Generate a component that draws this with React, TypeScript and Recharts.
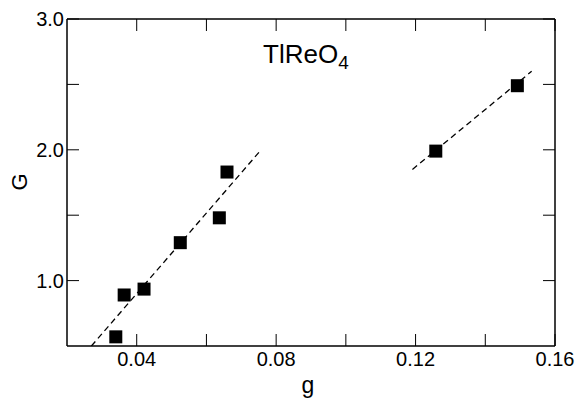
import React from 'react';
import { ScatterChart, Scatter, XAxis, YAxis } from 'recharts';

// Measured points
const gValues = [0.034, 0.0364, 0.0421, 0.0525, 0.0637, 0.0659, 0.1258, 0.1492];
const GValues = [0.57, 0.89, 0.935, 1.29, 1.48, 1.83, 1.99, 2.49];

// Dashed guide lines (end points)
const fit1G = [0.027, 0.0757];
const fit1Y = [0.5, 2.0];
const fit2G = [0.1191, 0.1533];
const fit2Y = [1.85, 2.6];

// Axes
const xTicks = [0.04, 0.06, 0.08, 0.1, 0.12, 0.14, 0.16];
const xLabelTicks = [0.04, 0.08, 0.12, 0.16];
const yTicks = [1.0, 1.5, 2.0, 2.5, 3.0];
const yLabelTicks = [1.0, 2.0, 3.0];
const xDomain = [0.02, 0.16];
const yDomain = [0.5, 3.0];

const title = 'TlReO';
const titleSub = '4';
const xName = 'g';
const yName = 'G';

const points = gValues.map((g, i) => ({ g, G: GValues[i] }));
const fit1 = fit1G.map((g, i) => ({ g, G: fit1Y[i] }));
const fit2 = fit2G.map((g, i) => ({ g, G: fit2Y[i] }));

const FONT = '"Liberation Sans", Arial, Helvetica, sans-serif';
const TICK_LEN = 12;

const isIn = (arr: number[], v: number) => arr.some((a) => Math.abs(a - v) < 1e-9);

const BottomTick = (props: any) => {
  const { x, y, payload } = props;
  return (
    <g>
      <line x1={x} y1={y} x2={x} y2={y - TICK_LEN} stroke="#000" strokeWidth={1} />
      {isIn(xLabelTicks, payload.value) && (
        <text x={x} y={y + 20} textAnchor="middle" fontSize={20} fontFamily={FONT} fill="#000">
          {payload.value.toFixed(2)}
        </text>
      )}
    </g>
  );
};

const TopTick = (props: any) => {
  const { x, y } = props;
  return <line x1={x} y1={y} x2={x} y2={y + TICK_LEN} stroke="#000" strokeWidth={1} />;
};

const LeftTick = (props: any) => {
  const { x, y, payload } = props;
  return (
    <g>
      <line x1={x} y1={y} x2={x + TICK_LEN} y2={y} stroke="#000" strokeWidth={1} />
      {isIn(yLabelTicks, payload.value) && (
        <text x={x - 3} y={y + 7} textAnchor="end" fontSize={20} fontFamily={FONT} fill="#000">
          {payload.value.toFixed(1)}
        </text>
      )}
    </g>
  );
};

const RightTick = (props: any) => {
  const { x, y } = props;
  return <line x1={x} y1={y} x2={x - TICK_LEN} y2={y} stroke="#000" strokeWidth={1} />;
};

const SquareShape = (props: any) => {
  const { cx, cy } = props;
  return <rect x={cx - 6.5} y={cy - 6.5} width={13} height={13} fill="#000" />;
};

const NoShape = () => <g />;

const axisLineStyle = { stroke: '#000', strokeWidth: 1.5 };

export default function App() {
  return (
    <div style={{ position: 'absolute', left: 0, top: 0, width: 576, height: 398, background: '#fff' }}>
      <ScatterChart width={576} height={398} margin={{ top: 18, right: 20, bottom: 51, left: 66 }}>
        <XAxis
          xAxisId="bottom"
          type="number"
          dataKey="g"
          domain={xDomain}
          ticks={xTicks}
          allowDataOverflow
          height={1}
          tickSize={0}
          tickMargin={0}
          tickLine={false}
          tick={<BottomTick />}
          axisLine={axisLineStyle}
          interval={0}
        />
        <XAxis
          xAxisId="top"
          orientation="top"
          type="number"
          dataKey="g"
          domain={xDomain}
          ticks={xTicks}
          allowDataOverflow
          height={1}
          tickSize={0}
          tickMargin={0}
          tickLine={false}
          tick={<TopTick />}
          axisLine={axisLineStyle}
          interval={0}
        />
        <YAxis
          yAxisId="left"
          type="number"
          dataKey="G"
          domain={yDomain}
          ticks={yTicks}
          allowDataOverflow
          width={1}
          tickSize={0}
          tickMargin={0}
          tickLine={false}
          tick={<LeftTick />}
          axisLine={axisLineStyle}
          interval={0}
        />
        <YAxis
          yAxisId="right"
          orientation="right"
          type="number"
          dataKey="G"
          domain={yDomain}
          ticks={yTicks}
          allowDataOverflow
          width={1}
          tickSize={0}
          tickMargin={0}
          tickLine={false}
          tick={<RightTick />}
          axisLine={axisLineStyle}
          interval={0}
        />
        <Scatter
          xAxisId="top"
          yAxisId="right"
          data={fit1}
          line={{ stroke: '#000', strokeWidth: 1.3, strokeDasharray: '6 4' }}
          shape={<NoShape />}
          isAnimationActive={false}
        />
        <Scatter
          xAxisId="top"
          yAxisId="right"
          data={fit2}
          line={{ stroke: '#000', strokeWidth: 1.3, strokeDasharray: '6 4' }}
          shape={<NoShape />}
          isAnimationActive={false}
        />
        <Scatter
          xAxisId="bottom"
          yAxisId="left"
          data={points}
          shape={<SquareShape />}
          isAnimationActive={false}
        />
      </ScatterChart>
      <svg
        width={576}
        height={398}
        style={{ position: 'absolute', left: 0, top: 0, pointerEvents: 'none' }}
      >
        <text x={263} y={63} fontSize={26} fontFamily={FONT} fill="#000">
          {title}
          <tspan fontSize={19} dy={6}>{titleSub}</tspan>
        </text>
        <text x={308} y={393} textAnchor="middle" fontSize={23} fontFamily={FONT} fill="#000">
          {xName}
        </text>
        <text
          x={0}
          y={0}
          transform="translate(27 182) rotate(-90)"
          textAnchor="middle"
          fontSize={22}
          fontFamily={FONT}
          fill="#000"
        >
          {yName}
        </text>
      </svg>
    </div>
  );
}
